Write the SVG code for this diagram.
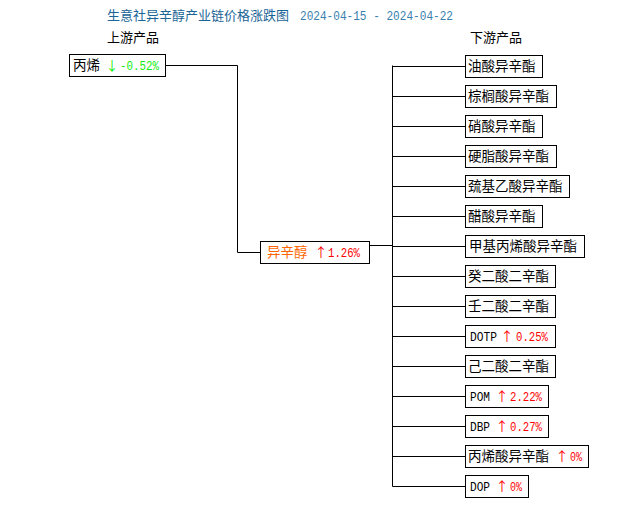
<svg xmlns="http://www.w3.org/2000/svg" width="630" height="505" viewBox="0 0 630 505">
<style>
.bg{fill:#fff}
.box{fill:#fff;stroke:#000;stroke-width:1}
.ln{fill:none;stroke:#000;stroke-width:1}
.cn{font-family:"Noto Sans CJK SC","Noto Sans",sans-serif;font-size:13.5px;fill:#000}
.mo{font-family:"Liberation Mono",monospace;font-size:13px}
.ar{font-family:"Noto Sans CJK SC",sans-serif;font-size:13px;text-anchor:middle}
.up{fill:#ff0000}
.dn{fill:#11ee11}
</style>
<rect class="bg" x="0" y="0" width="630" height="505"/>
<text x="107" y="20" class="cn" style="fill:#1a6496;font-size:13px">生意社异辛醇产业链价格涨跌图</text>
<text x="300" y="20" class="mo" style="fill:#3a7fae;font-size:13.5px" textLength="153" lengthAdjust="spacingAndGlyphs">2024-04-15 - 2024-04-22</text>
<text x="107" y="42" class="cn" style="font-size:13px">上游产品</text>
<text x="470" y="42" class="cn" style="font-size:13px">下游产品</text>
<g id="connectors">
<polyline class="ln" points="166,65.5 237.5,65.5 237.5,252.5 261,252.5"/>
<polyline class="ln" points="370,245.5 392.5,245.5"/>
<line class="ln" x1="392.5" y1="65.5" x2="392.5" y2="486.5"/>
<path class="ln" d="M392.5,66.5H465M392.5,96.5H465M392.5,126.5H465M392.5,156.5H465M392.5,186.5H465M392.5,216.5H465M392.5,246.5H465M392.5,276.5H465M392.5,306.5H465M392.5,336.5H465M392.5,366.5H465M392.5,396.5H465M392.5,426.5H465M392.5,456.5H465M392.5,486.5H465"/>
</g>
<g id="n-up">
<rect class="box" x="69.5" y="54.5" width="96" height="22"/>
<text x="73" y="70" class="cn">丙烯</text>
<text x="112" y="70" class="ar dn">↓</text>
<text x="120" y="70" class="mo dn" textLength="39" lengthAdjust="spacingAndGlyphs">-0.52%</text>
</g>
<g id="n-center">
<rect class="box" x="260.5" y="241.5" width="109" height="22"/>
<text x="267" y="257" class="cn" style="fill:#ff6600">异辛醇</text>
<text x="321" y="257" class="ar up">↑</text>
<text x="328" y="257" class="mo up" textLength="32" lengthAdjust="spacingAndGlyphs">1.26%</text>
</g>
<g id="d1"><rect class="box" x="465.5" y="55.5" width="77" height="22"/><text x="468" y="71" class="cn">油酸异辛酯</text></g>
<g id="d2"><rect class="box" x="465.5" y="85.5" width="91" height="22"/><text x="468" y="101" class="cn">棕榈酸异辛酯</text></g>
<g id="d3"><rect class="box" x="465.5" y="115.5" width="77" height="22"/><text x="468" y="131" class="cn">硝酸异辛酯</text></g>
<g id="d4"><rect class="box" x="465.5" y="145.5" width="91" height="22"/><text x="468" y="161" class="cn">硬脂酸异辛酯</text></g>
<g id="d5"><rect class="box" x="465.5" y="175.5" width="104" height="22"/><text x="468" y="191" class="cn">巯基乙酸异辛酯</text></g>
<g id="d6"><rect class="box" x="465.5" y="205.5" width="77" height="22"/><text x="468" y="221" class="cn">醋酸异辛酯</text></g>
<g id="d7"><rect class="box" x="465.5" y="235.5" width="119" height="22"/><text x="469" y="251" class="cn">甲基丙烯酸异辛酯</text></g>
<g id="d8"><rect class="box" x="465.5" y="265.5" width="90" height="22"/><text x="468" y="281" class="cn">癸二酸二辛酯</text></g>
<g id="d9"><rect class="box" x="465.5" y="295.5" width="90" height="22"/><text x="468" y="311" class="cn">壬二酸二辛酯</text></g>
<g id="d10"><rect class="box" x="465.5" y="325.5" width="90" height="22"/><text x="470" y="341" class="mo" textLength="27" lengthAdjust="spacingAndGlyphs">DOTP</text><text x="507" y="341" class="ar up">↑</text><text x="516" y="341" class="mo up" textLength="32" lengthAdjust="spacingAndGlyphs">0.25%</text></g>
<g id="d11"><rect class="box" x="465.5" y="355.5" width="90" height="22"/><text x="468" y="371" class="cn">己二酸二辛酯</text></g>
<g id="d12"><rect class="box" x="465.5" y="385.5" width="83" height="22"/><text x="470" y="401" class="mo" textLength="20" lengthAdjust="spacingAndGlyphs">POM</text><text x="502" y="401" class="ar up">↑</text><text x="510" y="401" class="mo up" textLength="32" lengthAdjust="spacingAndGlyphs">2.22%</text></g>
<g id="d13"><rect class="box" x="465.5" y="415.5" width="83" height="22"/><text x="470" y="431" class="mo" textLength="20" lengthAdjust="spacingAndGlyphs">DBP</text><text x="502" y="431" class="ar up">↑</text><text x="510" y="431" class="mo up" textLength="32" lengthAdjust="spacingAndGlyphs">0.27%</text></g>
<g id="d14"><rect class="box" x="465.5" y="445.5" width="123" height="22"/><text x="468" y="461" class="cn">丙烯酸异辛酯</text><text x="562" y="461" class="ar up">↑</text><text x="570" y="461" class="mo up" textLength="12" lengthAdjust="spacingAndGlyphs">0%</text></g>
<g id="d15"><rect class="box" x="465.5" y="475.5" width="63" height="22"/><text x="470" y="491" class="mo" textLength="20" lengthAdjust="spacingAndGlyphs">DOP</text><text x="502" y="491" class="ar up">↑</text><text x="510" y="491" class="mo up" textLength="12" lengthAdjust="spacingAndGlyphs">0%</text></g>
</svg>
